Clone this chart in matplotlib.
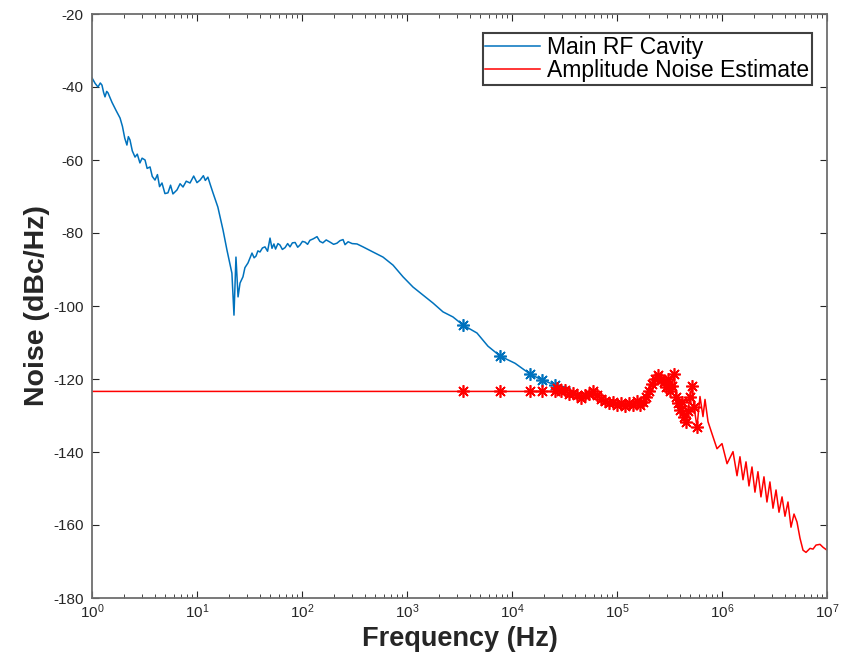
import matplotlib
matplotlib.use("Agg")
import matplotlib.pyplot as plt
from matplotlib.ticker import LogLocator, FixedLocator

plt.rcParams["font.family"] = ["Liberation Sans", "DejaVu Sans"]
plt.rcParams["axes.unicode_minus"] = False
plt.rcParams["mathtext.default"] = "regular"

# Main RF cavity phase noise
blue_f = [1, 1.07, 1.14, 1.2, 1.245, 1.29, 1.33, 1.38, 1.42, 1.55, 1.7, 1.85,
          1.95, 2.05, 2.15, 2.22, 2.30, 2.42, 2.57, 2.7, 2.86, 3.0, 3.20, 3.35,
          3.57, 3.75, 3.98, 4.2, 4.4, 4.64, 4.95, 5.29, 5.6, 5.9, 6.45, 6.9,
          7.36, 7.9, 8.58, 9.3, 10.0, 10.7, 11.5, 12.0, 12.7, 13.4, 14.2, 15.8,
          17.7, 19.3, 21.5, 22.5, 23.5, 24.6, 25.7, 27.4, 28.6, 30.6, 33.4, 35.0,
          36.5, 38.0, 39.8, 42.0, 44.4, 47.0, 49.6, 51.8, 54.0, 56.0, 59.0, 61.7,
          65.0, 69.0, 73.0, 76.9, 81.0, 86.0, 91.0, 95.7, 101, 107, 113, 119, 128,
          139, 148, 158, 170, 185, 200, 215, 230, 246, 257, 275, 300, 334, 381,
          474, 591, 736, 916, 1140, 1420, 1770, 2200, 2740, 3410, 4640, 5900,
          7690, 10700, 14800, 19300, 25700, 35700]
blue_db = [-37.5, -39.0, -40.0, -38.9, -39.5, -41.5, -42.7, -41.2, -41.6, -44.2,
           -46.5, -48.5, -50.8, -54.0, -55.9, -53.6, -54.5, -57.5, -59.2, -58.4,
           -60.8, -59.5, -60.0, -62.3, -61.9, -64.5, -65.5, -64.0, -67.3, -66.3,
           -69.2, -69.0, -66.9, -69.3, -68.2, -66.5, -67.4, -65.8, -66.3, -64.4,
           -66.2, -65.5, -64.3, -65.6, -64.7, -66.8, -69.0, -72.9, -79.2, -84.7,
           -91.0, -102.5, -86.6, -97.5, -93.7, -92.0, -89.5, -88.2, -85.5, -86.8,
           -86.3, -84.9, -85.2, -84.1, -83.8, -85.0, -81.4, -84.2, -83.0, -84.4,
           -82.9, -83.3, -84.5, -84.0, -82.9, -83.8, -82.7, -82.6, -83.9, -83.3,
           -82.3, -82.5, -83.1, -82.0, -81.6, -81.0, -82.3, -82.7, -81.9, -82.5,
           -83.1, -82.8, -82.1, -81.8, -83.2, -82.4, -82.9, -83.0, -83.8, -85.2,
           -86.6, -88.8, -92.0, -94.8, -97.0, -99.2, -101.6, -103.0, -105.2,
           -107.4, -111.0, -113.7, -115.7, -118.6, -120.3, -121.6, -122.5]
blue_marks = [3410, 7690, 14800, 19300, 25700]

# Amplitude noise estimate: flat floor, dense measured band, high-frequency tail
red_floor_f = [1, 3410, 7690, 14800, 19300, 25700]
red_floor_db = [-123.4] * 6
red_band_f = [26800, 29300, 32000, 34900, 38100, 41600, 45400, 49600, 54100,
              59100, 64500, 70400, 76900, 83900, 91600, 100000, 109000, 119000,
              130000, 142000, 155000, 165000, 177000, 189000, 202000, 215000,
              230000, 246000, 262000, 280000, 293000, 306000, 320000, 334000,
              349000, 365000, 381000, 398000, 416000, 435000, 454000, 474000,
              495000, 518000, 541000, 578000]
red_band_db = [-122.6, -123.4, -122.9, -124.0, -123.7, -124.5, -125.1, -124.5,
               -124.0, -123.2, -124.3, -125.4, -125.9, -126.5, -126.2, -127.0,
               -126.7, -127.3, -126.5, -127.0, -125.9, -127.0, -126.2, -124.8,
               -123.4, -121.5, -120.1, -119.0, -119.9, -120.7, -122.1, -120.1,
               -123.4, -121.8, -118.5, -124.8, -126.7, -128.4, -126.2, -130.3,
               -131.7, -128.9, -124.8, -121.8, -127.6, -133.1]
red_tail_f = [617000, 659000, 689000, 736000, 803000, 896000, 1.0e6, 1.117e6,
              1.273e6, 1.39e6, 1.483e6, 1.585e6, 1.693e6, 1.807e6, 1.93e6,
              2.06e6, 2.20e6, 2.35e6, 2.51e6, 2.68e6, 2.86e6, 3.06e6, 3.27e6,
              3.49e6, 3.73e6, 3.98e6, 4.25e6, 4.54e6, 4.85e6, 5.18e6, 5.53e6,
              5.91e6, 6.31e6, 6.89e6, 7.36e6, 7.86e6, 8.58e6, 9.16e6, 1.0e7]
red_tail_db = [-124.8, -130.3, -125.6, -131.7, -135.0, -139.1, -137.7, -143.2,
               -139.9, -146.5, -141.3, -147.6, -142.7, -149.3, -144.1, -151.0,
               -145.4, -152.3, -146.8, -153.7, -148.2, -155.4, -150.4, -156.5,
               -152.3, -157.6, -153.7, -160.6, -157.0, -159.2, -163.6, -166.9,
               -167.5, -166.4, -166.6, -165.5, -165.3, -166.1, -166.9]

red_f = red_floor_f + red_band_f + red_tail_f
red_db = red_floor_db + red_band_db + red_tail_db
red_mark_idx = list(range(1, len(red_floor_f) + len(red_band_f)))
blue_mark_idx = [blue_f.index(v) for v in blue_marks]

fig = plt.figure(figsize=(8.41, 6.52), dpi=100)
ax = fig.add_axes([92 / 841, 54 / 652, 735 / 841, 584 / 652])

star = (8, 2, 0)  # MATLAB-like asterisk
ax.plot(blue_f, blue_db, color="#0072BD", lw=1.1, marker=star, markersize=9,
        mew=1.2, markevery=blue_mark_idx, label="Main RF Cavity")
ax.plot(red_f, red_db, color="#FF0000", lw=1.1, marker=star, markersize=9,
        mew=1.2, markevery=red_mark_idx, label="Amplitude Noise Estimate")

ax.set_xscale("log")
ax.set_xlim(1, 1e7)
ax.set_ylim(-180, -20)
ax.yaxis.set_major_locator(FixedLocator(range(-180, -19, 20)))
ax.xaxis.set_major_locator(FixedLocator([10.0 ** k for k in range(8)]))
ax.xaxis.set_minor_locator(LogLocator(base=10, subs=range(2, 10), numticks=10))

ax.tick_params(which="both", direction="in", top=True, right=True,
               colors="#262626", labelsize=11)
ax.tick_params(axis="y", pad=6)
ax.tick_params(which="major", length=5, width=0.8)
ax.tick_params(which="minor", length=3, width=0.6)
for spine in ax.spines.values():
    spine.set_edgecolor("#6e6e6e")
    spine.set_linewidth(1.3)

ax.set_xlabel("Frequency (Hz)", fontsize=19.5, fontweight="bold", color="#262626",
              labelpad=3)
ax.set_ylabel("Noise (dBc/Hz)", fontsize=20.5, fontweight="bold", color="#262626",
              labelpad=2)

leg = ax.legend(loc="upper right", fontsize=16.5, handlelength=2.4,
                borderpad=0.12, labelspacing=0.02, handletextpad=0.3,
                fancybox=False, framealpha=1, borderaxespad=0,
                bbox_to_anchor=(812 / 841, 1 - 33 / 652),
                bbox_transform=fig.transFigure)
leg.get_frame().set_edgecolor("#404040")
leg.get_frame().set_linewidth(1.5)
for h in leg.get_lines():
    h.set_marker("")

fig.savefig("out.png", dpi=100)
